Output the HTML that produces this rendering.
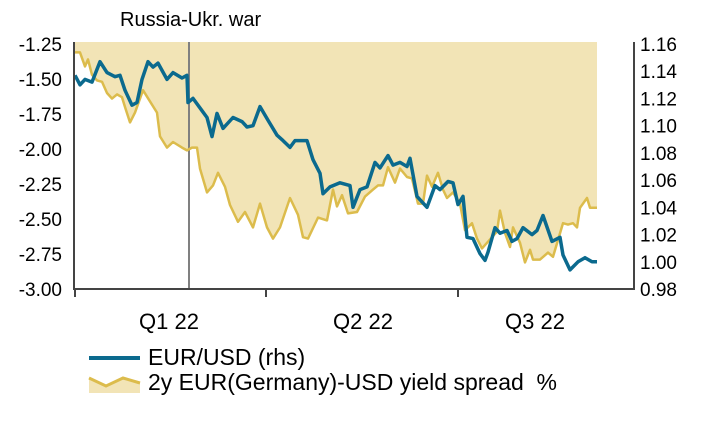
<!DOCTYPE html>
<html><head><meta charset="utf-8"><style>
body{margin:0;background:#fff;width:701px;height:417px;overflow:hidden}
svg text{font-family:"Liberation Sans",Arial,sans-serif;fill:#000}
</style></head><body>
<svg id="chart" width="701" height="417">
<g id="plot"></g>
</svg>
<script>
const blueT=[0,2.5,5,8.5,12.5,16,20,22.5,25,28.5,31,33.5,36.5,39,41.5,46,49,53.5,56,56.5,59,63.5,66,68.5,71,74,79,83.5,86,89,92.5,96.5,101,104,107.5,110,112.5,116,119,122.5,124,127.5,132.5,137.5,139,142.5,146,150,152.5,156.5,159,162.5,166,167.5,171,176,180,182.5,186.5,189,191.5,194,196,199,202.5,205,206.5,210,212.5,216,218.5,221,224,228.5,231,234,238.5,242.5,244,247.5,251.5,255,258.5,261];
const eurusd=[1.137,1.130,1.134,1.132,1.147,1.139,1.136,1.137,1.126,1.115,1.117,1.134,1.147,1.143,1.146,1.134,1.139,1.135,1.137,1.117,1.120,1.111,1.106,1.092,1.109,1.098,1.106,1.103,1.099,1.100,1.114,1.104,1.093,1.089,1.084,1.089,1.089,1.089,1.075,1.065,1.050,1.055,1.058,1.056,1.040,1.053,1.055,1.073,1.069,1.078,1.071,1.073,1.070,1.076,1.048,1.040,1.056,1.053,1.059,1.058,1.042,1.048,1.018,1.017,1.006,1.001,1.007,1.025,1.021,1.023,1.015,1.017,1.025,1.020,1.023,1.034,1.015,1.018,1.005,0.994,1.000,1.003,1.000,1.000];
const spreadT=[0,2.5,5,6.5,8.5,11,13.5,16,18.5,21,23.5,25,27.5,30,34,37.5,41,42.5,46,49,53.5,56,58.5,61,62.5,66,69,71.5,75,77.5,81.5,85,89,92.5,96,99,102.5,107.5,111.5,114,116.5,121.5,126,129,131,133.5,136.5,141,145,149,151.5,154,156.5,160,162.5,166,168.5,171.5,174,176,178.5,181.5,184,186,189,192.5,195,198.5,201,203.5,206,211,212.5,215,217.5,219,222.5,225,227.5,229,232.5,236.5,239,241.5,244,246.5,249,251,252.5,256,257.5,261];
const spread=[-1.31,-1.31,-1.41,-1.36,-1.47,-1.51,-1.52,-1.60,-1.64,-1.61,-1.63,-1.70,-1.81,-1.74,-1.58,-1.66,-1.74,-1.91,-1.99,-1.95,-1.99,-2.01,-1.99,-1.99,-2.14,-2.31,-2.26,-2.17,-2.27,-2.40,-2.52,-2.45,-2.56,-2.39,-2.56,-2.64,-2.56,-2.35,-2.47,-2.63,-2.64,-2.49,-2.51,-2.29,-2.41,-2.33,-2.46,-2.45,-2.34,-2.29,-2.26,-2.26,-2.13,-2.24,-2.14,-2.20,-2.21,-2.39,-2.39,-2.19,-2.27,-2.17,-2.29,-2.35,-2.31,-2.39,-2.58,-2.53,-2.64,-2.71,-2.67,-2.59,-2.44,-2.60,-2.70,-2.56,-2.67,-2.81,-2.72,-2.79,-2.79,-2.74,-2.77,-2.65,-2.53,-2.54,-2.53,-2.56,-2.42,-2.35,-2.42,-2.42];
const leftTicks=[-1.25,-1.50,-1.75,-2.00,-2.25,-2.50,-2.75,-3.00];
const rightTicks=[1.16,1.14,1.12,1.10,1.08,1.06,1.04,1.02,1.00,0.98];
const qTicks=[0,95.5,191.5];
const qLabels=["Q1 22","Q2 22","Q3 22"];
const qLabelT=[47,144,230];
const warT=57;

const NS="http://www.w3.org/2000/svg";
const g=document.getElementById('plot');
const X0=75,X1=597,T1=261,PT=42,PB=289,AL=74,AR=634;
const xS=t=>X0+t*(X1-X0)/T1;
const yL=v=>44+(-1.25-v)*140;
const yR=v=>44+(1.16-v)*1361.1;
function mk(tag,attrs,parent){const e=document.createElementNS(NS,tag);for(const k in attrs)e.setAttribute(k,attrs[k]);(parent||g).appendChild(e);return e;}

let d='M'+xS(spreadT[0])+','+PT;
spreadT.forEach((t,i)=>{d+=' L'+xS(t).toFixed(1)+','+yL(spread[i]).toFixed(1);});
d+=' L'+xS(spreadT[spreadT.length-1])+','+PT+' Z';
const fill=mk('path',{d:d,fill:'#f2e4b6'});



const war=mk('line',{x1:xS(warT),x2:xS(warT),y1:PT,y2:PB,stroke:'#808080','stroke-width':2});



const sl=mk('polyline',{points:spreadT.map((t,i)=>xS(t).toFixed(1)+','+yL(spread[i]).toFixed(1)).join(' '),fill:'none',stroke:'#dcbc4c','stroke-width':2.5,'stroke-linejoin':'round'});



const bl=mk('polyline',{points:blueT.map((t,i)=>xS(t).toFixed(1)+','+yR(eurusd[i]).toFixed(1)).join(' '),fill:'none',stroke:'#0b6a8e','stroke-width':3.5,'stroke-linejoin':'round'});



const ax=mk('path',{d:`M${AL},${PT} L${AL},${PB} L${AR},${PB} L${AR},${PT}`,fill:'none',stroke:'#444','stroke-width':2});



leftTicks.forEach(v=>{
  const t=mk('text',{x:62,y:yL(v)+7,'text-anchor':'end','font-size':19});
  t.textContent=v.toFixed(2);
  
  
});
rightTicks.forEach(v=>{
  const t=mk('text',{x:640,y:yR(v)+7,'text-anchor':'start','font-size':19});
  t.textContent=v.toFixed(2);
  
  
});
qTicks.forEach(t=>{
  const l=mk('line',{x1:xS(t),x2:xS(t),y1:PB,y2:297,stroke:'#444','stroke-width':2});
  
  
});
qLabels.forEach((s,i)=>{
  const t=mk('text',{x:xS(qLabelT[i]),y:329,'text-anchor':'middle','font-size':22});
  t.textContent=s;
  
  
});
const wt=mk('text',{x:120,y:26,'font-size':20});
wt.textContent='Russia-Ukr. war';



const lg=mk('g',{});


const l1=mk('line',{x1:89,x2:140,y1:358,y2:358,stroke:'#0b6a8e','stroke-width':4},lg);


const t1=mk('text',{x:148,y:365,'font-size':23},lg);
t1.textContent='EUR/USD (rhs)';


const f2=mk('path',{d:'M89,378 L106,386 L123,378 L140,383 L140,393 L89,393 Z',fill:'#f2e4b6'},lg);


const l2=mk('polyline',{points:'89,378 106,386 123,378 140,383',fill:'none',stroke:'#dcbc4c','stroke-width':3},lg);


const t2=mk('text',{x:148,y:390,'font-size':23},lg);
t2.textContent='2y EUR(Germany)-USD yield spread\u00a0\u00a0%';


</script>
</body></html>
